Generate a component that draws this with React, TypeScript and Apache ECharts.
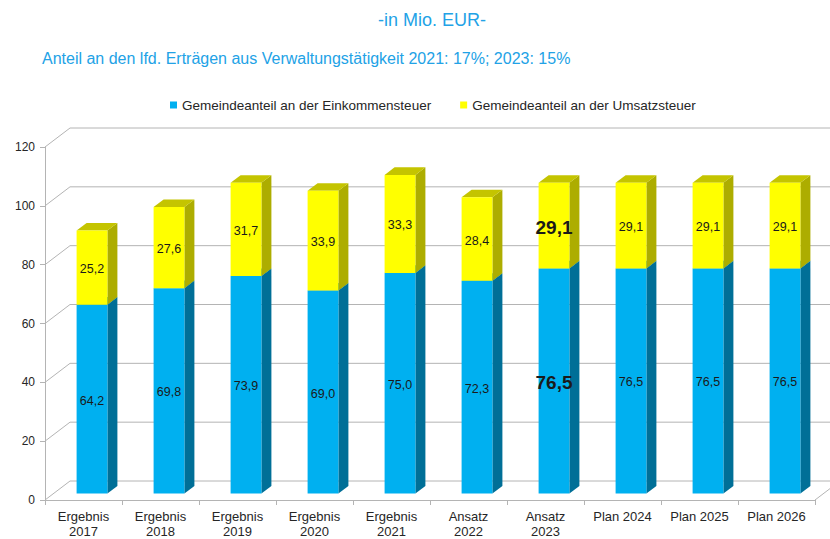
import React, { useEffect, useRef } from "react";
import * as echarts from "echarts";

const categories = [
  "Ergebnis\n2017",
  "Ergebnis\n2018",
  "Ergebnis\n2019",
  "Ergebnis\n2020",
  "Ergebnis\n2021",
  "Ansatz\n2022",
  "Ansatz\n2023",
  "Plan 2024",
  "Plan 2025",
  "Plan 2026",
];
const einkommensteuer = [64.2, 69.8, 73.9, 69.0, 75.0, 72.3, 76.5, 76.5, 76.5, 76.5];
const umsatzsteuer = [25.2, 27.6, 31.7, 33.9, 33.3, 28.4, 29.1, 29.1, 29.1, 29.1];
const yTicks = [0, 20, 40, 60, 80, 100, 120];
const highlightIndex = 6;

const seriesNames = [
  "Gemeindeanteil an der Einkommensteuer",
  "Gemeindeanteil an der Umsatzsteuer",
];

const FONT = "'Liberation Sans', Arial, sans-serif";
const GRID_COLOR = "#b4b4b4";
const TITLE_COLOR = "#22a2e6";
const DEPTH_X = 25;
const DEPTH_Y = -19;

const fmt = (v: number) => v.toFixed(1).replace(".", ",");

function makeBarRenderer(front: string, side: string, top: string) {
  return (params: any, api: any) => {
    const i = api.value(0);
    const lo = api.value(1);
    const hi = api.value(2);
    const val = api.value(3);
    const p0 = api.coord([i, lo]);
    const p1 = api.coord([i, hi]);
    const band = api.size([1, 0])[0];
    const w = band * 0.4;
    const ox = 8.5;
    const oy = -6.5;
    const dx = 10;
    const dy = -7.6;
    const cx = p0[0] + ox;
    const xl = cx - w / 2;
    const xr = cx + w / 2;
    const yb = p0[1] + oy;
    const yt = p1[1] + oy;
    const hl = i === highlightIndex;
    return {
      type: "group",
      children: [
        {
          type: "polygon",
          shape: { points: [[xr, yb], [xr + dx, yb + dy], [xr + dx, yt + dy], [xr, yt]] },
          style: { fill: side },
        },
        {
          type: "polygon",
          shape: { points: [[xl, yt], [xl + dx, yt + dy], [xr + dx, yt + dy], [xr, yt]] },
          style: { fill: top },
        },
        {
          type: "rect",
          shape: { x: xl, y: yt, width: w, height: yb - yt },
          style: { fill: front },
        },
        {
          type: "text",
          x: cx,
          y: (yb + yt) / 2 + 1.5,
          style: {
            text: fmt(val),
            align: "center",
            verticalAlign: "middle",
            fill: "#1a1a1a",
            font: hl ? `bold 19px ${FONT}` : `12.5px ${FONT}`,
          },
        },
      ],
    };
  };
}

const frameRenderer = (params: any, api: any) => {
  const cs = params.coordSys;
  const x0 = cs.x;
  const x1 = cs.x + cs.width;
  const v = api.value(1);
  const y = api.coord([0, v])[1];
  const style = { stroke: GRID_COLOR, lineWidth: 1, fill: "none" };
  const children: any[] = [
    { type: "line", shape: { x1: x0, y1: y, x2: x0 + DEPTH_X, y2: y + DEPTH_Y }, style },
    {
      type: "line",
      shape: { x1: x0 + DEPTH_X, y1: y + DEPTH_Y, x2: x1 + DEPTH_X, y2: y + DEPTH_Y },
      style,
    },
  ];
  if (v === 0) {
    children.push({
      type: "line",
      shape: { x1: x1, y1: y, x2: x1 + DEPTH_X, y2: y + DEPTH_Y },
      style,
    });
  }
  return { type: "group", children };
};

export default function App() {
  const ref = useRef<HTMLDivElement>(null);
  useEffect(() => {
    if (!ref.current) return;
    const chart = echarts.init(ref.current, undefined, { renderer: "svg" });
    const blueData = einkommensteuer.map((v, i) => [i, 0, v, v]);
    const yellowData = umsatzsteuer.map((v, i) => [i, einkommensteuer[i], einkommensteuer[i] + v, v]);
    chart.setOption({
      animation: false,
      backgroundColor: "#ffffff",
      title: [
        {
          text: "-in Mio. EUR-",
          left: 373,
          top: 6,
          textStyle: { fontFamily: FONT, fontSize: 18, fontWeight: "normal", color: TITLE_COLOR },
        },
        {
          text: "Anteil an den lfd. Erträgen aus Verwaltungstätigkeit 2021: 17%; 2023: 15%",
          left: 37,
          top: 45,
          textStyle: { fontFamily: FONT, fontSize: 16, fontWeight: "normal", color: TITLE_COLOR },
        },
      ],
      legend: {
        data: seriesNames,
        left: 165,
        top: 93,
        icon: "rect",
        itemWidth: 7,
        itemHeight: 7,
        itemGap: 29,
        textStyle: { fontFamily: FONT, fontSize: 13.5, color: "#262626" },
      },
      grid: { left: 45, right: 15, top: 147, bottom: 38, containLabel: false },
      xAxis: {
        type: "category",
        data: categories,
        axisLine: { show: true, lineStyle: { color: GRID_COLOR } },
        axisTick: { show: true, length: 5, lineStyle: { color: GRID_COLOR } },
        axisLabel: {
          fontFamily: FONT,
          fontSize: 13,
          color: "#262626",
          lineHeight: 15,
          margin: 9,
          interval: 0,
        },
        splitLine: { show: false },
      },
      yAxis: {
        type: "value",
        min: 0,
        max: 120,
        interval: 20,
        axisLine: { show: true, lineStyle: { color: GRID_COLOR } },
        axisTick: { show: true, length: 5, lineStyle: { color: GRID_COLOR } },
        axisLabel: { fontFamily: FONT, fontSize: 12, color: "#262626", margin: 10 },
        splitLine: { show: false },
      },
      series: [
        {
          type: "custom",
          name: "frame",
          z: 1,
          silent: true,
          renderItem: frameRenderer,
          encode: { x: 0, y: 1 },
          data: yTicks.map((v) => [0, v]),
        },
        {
          type: "custom",
          name: seriesNames[0],
          z: 2,
          itemStyle: { color: "#00b0f0" },
          renderItem: makeBarRenderer("#00b0f0", "#006f97", "#0090c4"),
          encode: { x: 0, y: [1, 2] },
          data: blueData,
        },
        {
          type: "custom",
          name: seriesNames[1],
          z: 3,
          itemStyle: { color: "#ffff00" },
          renderItem: makeBarRenderer("#ffff00", "#adad00", "#c4c400"),
          encode: { x: 0, y: [1, 2] },
          data: yellowData,
        },
      ],
    });
    return () => chart.dispose();
  }, []);
  return (
    <div
      ref={ref}
      style={{ position: "absolute", left: 0, top: 0, width: 830, height: 539 }}
    />
  );
}
